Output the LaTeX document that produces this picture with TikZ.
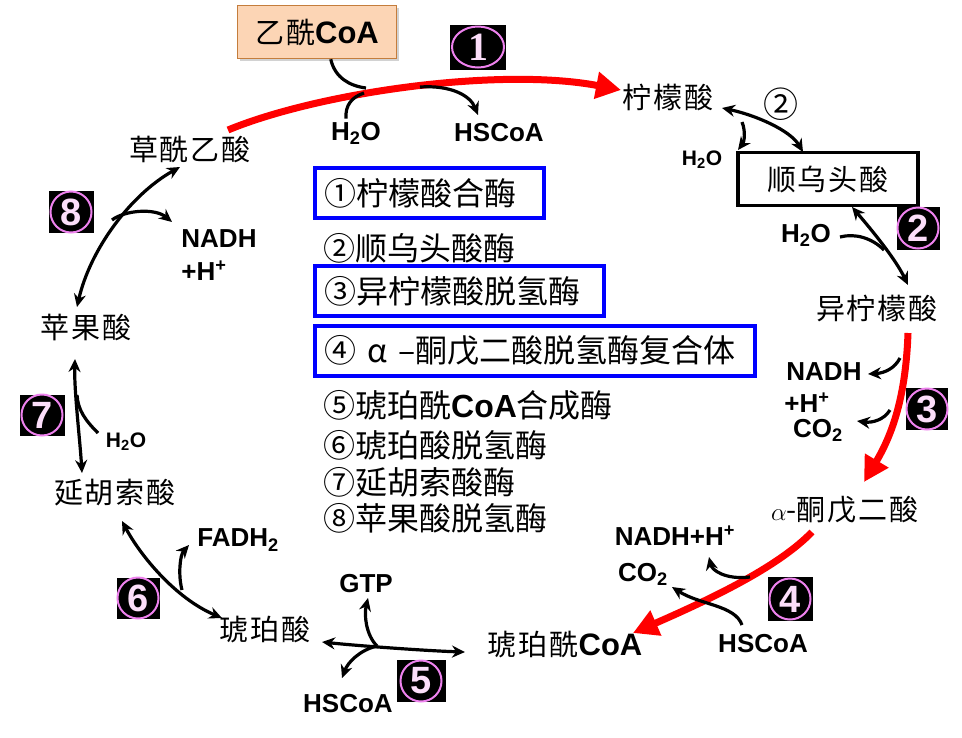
\documentclass[tikz,border=0pt]{standalone}
\usepackage{fontspec}
\setmainfont{Liberation Sans}
\newfontfamily\cjk{Noto Sans CJK SC}
\newfontfamily\serifb{Liberation Serif}
\usetikzlibrary{arrows.meta,shadows,shapes.geometric}
\definecolor{peach}{RGB}{252,213,181}
\definecolor{peachedge}{RGB}{196,125,60}
\definecolor{pinkring}{RGB}{238,130,238}
\definecolor{pinkdigit}{RGB}{252,222,250}
\definecolor{legblue}{RGB}{0,0,255}
\newcommand\zgap{\hspace{2pt}}
\tikzset{
 lab/.style={font=\cjk\fontsize{29}{32}\selectfont, inner sep=0pt},
 leg/.style={font=\cjk\fontsize{32}{36}\selectfont, inner sep=0pt, anchor=west},
 legbox/.style={draw=legblue, line width=3.5pt, minimum height=50pt, inner xsep=10pt, inner ysep=0pt, anchor=west, align=left, font=\cjk\fontsize{32}{36}\selectfont},
 chem/.style={font=\bfseries\fontsize{26}{28}\selectfont, inner sep=0pt},
 chems/.style={font=\bfseries\fontsize{21}{24}\selectfont, inner sep=0pt},
 blk/.style={line width=3.2pt, black, -{Stealth[length=13pt,width=12pt]}},
 blkline/.style={line width=3.2pt, black},
 dbl/.style={line width=3.2pt, black, {Stealth[length=13pt,width=12pt]}-{Stealth[length=13pt,width=12pt]}},
 redarr/.style={line width=7pt, red, -{Triangle[length=25pt,width=26pt]}},
 badgebg/.style={fill=black, inner sep=0pt},
 badgering/.style={circle, draw=pinkring, line width=2pt, minimum size=41pt, inner sep=0pt, text=pinkdigit, font=\bfseries\fontsize{38}{38}\selectfont},
}
\begin{document}
\begin{tikzpicture}[x=1pt,y=-1pt]
\fill[white] (0,0) rectangle (962,737);
\useasboundingbox (0,0) rectangle (962,737);

% ---------- metabolite nodes ----------
\node[draw=peachedge, fill=peach, line width=1.5pt, minimum width=159pt, minimum height=53pt, inner sep=0pt,
      drop shadow={shadow xshift=2pt,shadow yshift=-2pt,fill=black!35}] (acoa) at (317,32)
      {\cjk\fontsize{29}{32}\selectfont 乙\zgap 酰{\normalfont\bfseries\fontsize{31}{34}\selectfont CoA}};
\node[lab] (oaa) at (190,149) {草\zgap 酰\zgap 乙\zgap 酸};
\node[lab] (cit) at (668,97) {柠\zgap 檬\zgap 酸};
\node[draw=black, line width=3.5pt, minimum width=180pt, minimum height=53pt, inner sep=0pt,
      font=\cjk\fontsize{29}{32}\selectfont] (acon) at (828,179) {顺\zgap 乌\zgap 头\zgap 酸};
\node[lab] (iso) at (877,308) {异\zgap 柠\zgap 檬\zgap 酸};
\node[lab] (akg) at (845,510) {{\rmfamily$\alpha$}-酮\zgap 戊\zgap 二\zgap 酸};
\node[lab] (succoa) at (565,645) {琥\zgap 珀\zgap 酰{\normalfont\bfseries\fontsize{31}{34}\selectfont CoA}};
\node[lab] (suc) at (265,630) {琥\zgap 珀\zgap 酸};
\node[lab] (fum) at (115,493) {延\zgap 胡\zgap 索\zgap 酸};
\node[lab] (mal) at (86,328) {苹\zgap 果\zgap 酸};

% ---------- small chemical labels ----------
\node[chem] (h2oA) at (356,133) {H\textsubscript{2}O};
\node[chem] (hscoaA) at (499,133) {HSCoA};
\node[chems] (h2oB) at (702,160) {H\textsubscript{2}O};
\node[chem] (h2oC) at (806,235) {H\textsubscript{2}O};
\node[chem] (nadhC) at (824,372) {NADH};
\node[chem] (hC) at (807,403) {+H\textsuperscript{+}};
\node[chem] (co2C) at (818,430) {CO\textsubscript{2}};
\node[chem] (nadhD) at (675,536) {NADH+H\textsuperscript{+}};
\node[chem] (co2D) at (643,574) {CO\textsubscript{2}};
\node[chem] (hscoaD) at (763,644) {HSCoA};
\node[chem] (gtp) at (366,584) {GTP};
\node[chem] (hscoaE) at (348,704) {HSCoA};
\node[chem] (fadh) at (238,540) {FADH\textsubscript{2}};
\node[chems] (h2oG) at (126,442) {H\textsubscript{2}O};
\node[chem] (nadhH) at (219,239) {NADH};
\node[chem] (hH) at (204,271) {+H\textsuperscript{+}};

% ---------- enzyme legend ----------
\node[legbox, text width=209pt] (leg1) at (313,193) {①柠檬酸合酶};
\node[leg] (leg2) at (323,248) {②顺乌头酸酶};
\node[legbox, text width=269pt] (leg3) at (313,291) {③异柠檬酸脱氢酶};
\node[legbox, text width=420pt] (leg4) at (313,351) {④ α –酮戊二酸脱氢酶复合体};
\node[leg] (leg5) at (323,405) {⑤琥珀酰{\normalfont\bfseries CoA}合成酶};
\node[leg] (leg6) at (323,445) {⑥琥珀酸脱氢酶};
\node[leg] (leg7) at (323,482) {⑦延胡索酸酶};
\node[leg] (leg8) at (323,518) {⑧苹果酸脱氢酶};

% ---------- plain circled 2 ----------
\node[font=\cjk\fontsize{35}{36}\selectfont, inner sep=0pt] (c2) at (781,104) {②};

% ---------- badges ----------
\node[badgebg, minimum width=56pt, minimum height=45pt] (b1) at (478,47) {};
\node[ellipse, draw=pinkring, line width=2pt, minimum width=52pt, minimum height=41pt, inner sep=0pt,
      text=pinkdigit, font=\serifb\bfseries\fontsize{40}{40}\selectfont] (b1r) at (b1) {1};
\node[badgebg, minimum width=43pt, minimum height=43pt] (b2) at (918,228) {};
\node[badgering] (b2r) at (b2) {2};
\node[badgebg, minimum width=42pt, minimum height=42pt] (b3) at (927,409) {};
\node[badgering] (b3r) at (b3) {3};
\node[badgebg, minimum width=45pt, minimum height=44pt] (b4) at (790,599) {};
\node[badgering] (b4r) at (b4) {4};
\node[badgebg, minimum width=49pt, minimum height=42pt] (b5) at (421,681) {};
\node[badgering] (b5r) at (b5) {5};
\node[badgebg, minimum width=43pt, minimum height=41pt] (b6) at (138,598) {};
\node[badgering] (b6r) at (b6) {6};
\node[badgebg, minimum width=45pt, minimum height=41pt] (b7) at (42,415) {};
\node[badgering] (b7r) at (b7) {7};
\node[badgebg, minimum width=45pt, minimum height=42pt] (b8) at (71,212) {};
\node[badgering] (b8r) at (b8) {8};

% ---------- connector end points ----------
\coordinate (r1a) at (228,130);   \coordinate (r1b) at (621,90);
\coordinate (j1a) at (366,88);    \coordinate (j1b) at (364,93);  \coordinate (j1c) at (420,87);
\coordinate (t1) at (478,115);
\coordinate (c2a) at (722,108);   \coordinate (c2b) at (803,152);
\coordinate (h2a) at (742,122);   \coordinate (h2b) at (738,150);
\coordinate (i2a) at (852,207);   \coordinate (i2b) at (908,285);
\coordinate (h2c) at (840,237);   \coordinate (h2d) at (884,250);
\coordinate (r3a) at (908,333);   \coordinate (r3b) at (864,482);
\coordinate (j3a) at (900,358);   \coordinate (t3a) at (868,374);
\coordinate (j3b) at (890,410);   \coordinate (t3b) at (857,421);
\coordinate (r4a) at (812,532);   \coordinate (r4b) at (633,633);
\coordinate (j4a) at (750,577);   \coordinate (t4a) at (709,557);
\coordinate (s4b) at (742,625);   \coordinate (t4b) at (672,587);
\coordinate (s5a) at (465,652);   \coordinate (s5b) at (322,642);  \coordinate (j5) at (377,646);
\coordinate (t5a) at (368,598);   \coordinate (t5b) at (342,678);
\coordinate (s6a) at (122,521);   \coordinate (s6b) at (222,618);
\coordinate (j6) at (182,590);    \coordinate (t6) at (189,545);
\coordinate (s7a) at (75,359);    \coordinate (s7b) at (82,473);
\coordinate (h7a) at (98,433);    \coordinate (h7b) at (77,395);
\coordinate (s8a) at (77,307);    \coordinate (s8b) at (180,167);
\coordinate (j8) at (112,220);    \coordinate (t8) at (172,222);

% ---------- step 1 ----------
\draw[redarr] (r1a) .. controls (320,92) and (500,67) .. (r1b);
\draw[blkline] (acoa.south west) ++(94,0) .. controls (335,78) and (350,86) .. (j1a);
\draw[blkline] (h2oA.north) ++(-10,-3) .. controls (345,105) and (352,97) .. (j1b);
\draw[blk] (j1c) .. controls (450,85) and (470,95) .. (t1);

% ---------- step 2 ----------
\draw[dbl] (c2a) .. controls (755,115) and (790,130) .. (c2b);
\draw[blk] (h2a) .. controls (746,132) and (744,142) .. (h2b);
\draw[dbl] (i2a) .. controls (870,228) and (895,258) .. (i2b);
\draw[blkline] (h2c) .. controls (855,233) and (872,238) .. (h2d);

% ---------- step 3 ----------
\draw[redarr] (r3a) .. controls (906,390) and (895,430) .. (r3b);
\draw[blk] (j3a) .. controls (895,368) and (885,373) .. (t3a);
\draw[blk] (j3b) .. controls (884,420) and (872,423) .. (t3b);

% ---------- step 4 ----------
\draw[redarr] (r4a) .. controls (780,565) and (720,595) .. (r4b);
\draw[blk] (j4a) .. controls (725,580) and (712,570) .. (t4a);
\draw[blk] (s4b) .. controls (735,605) and (700,605) .. (t4b);

% ---------- step 5 ----------
\draw[dbl] (s5a) .. controls (430,651) and (360,646) .. (s5b);
\draw[blk] (j5) .. controls (366,635) and (364,615) .. (t5a);
\draw[blk] (j5) .. controls (360,650) and (348,662) .. (t5b);

% ---------- step 6 ----------
\draw[dbl] (s6a) .. controls (140,555) and (175,598) .. (s6b);
\draw[blk] (j6) .. controls (178,575) and (180,555) .. (t6);

% ---------- step 7 ----------
\draw[dbl] (s7a) .. controls (74,390) and (80,440) .. (s7b);
\draw[blkline] (h7a) .. controls (85,420) and (78,410) .. (h7b);

% ---------- step 8 ----------
\draw[dbl] (s8a) .. controls (90,250) and (130,195) .. (s8b);
\draw[blk] (j8) .. controls (125,210) and (155,208) .. (t8);
\end{tikzpicture}
\end{document}
